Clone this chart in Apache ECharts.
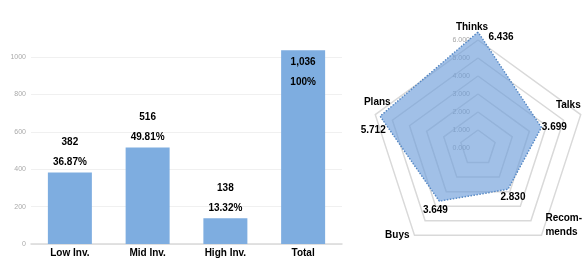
<!DOCTYPE html>
<html>
<head>
<meta charset="utf-8">
<script src="https://cdn.jsdelivr.net/npm/echarts@6/dist/echarts.min.js"></script>
<style>
    html, body { margin: 0; padding: 0; background: #fff; }
    #chart { width: 588px; height: 265px; }
</style>
</head>
<body>
<div id="chart"></div>
<script>
// bar chart data
const barCategories = ["Low Inv.", "Mid Inv.", "High Inv.", "Total"];
const barValues = [382, 516, 138, 1036];
const barPercents = ["36.87%", "49.81%", "13.32%", "100%"];

// radar data (listed counterclockwise from the top)
const radarNames = ["Thinks", "Plans", "Buys", "Recom-\nmends", "Talks"];
const radarValues = [6.436, 5.712, 3.649, 2.83, 3.699];
const radarMax = 6;

const FONT = '"Liberation Sans", Arial, sans-serif';

// where each value label sits next to its vertex
const valueLabelOffsets = [[23, 5], [-7, 14], [-4, 9], [5, 8], [13, 0]];

// how each category name sits next to its outer vertex
const nameStyles = [
    { gap: 6, style: { align: "center", verticalAlign: "bottom", padding: [0, 12, 0, 0] } },
    { gap: 0, style: { align: "center", verticalAlign: "bottom", padding: [0, 0, 5, 4] } },
    { gap: 0, style: { align: "right", verticalAlign: "middle", padding: [0, 5, 5, 0] } },
    { gap: 5, style: { align: "left", verticalAlign: "bottom", padding: [0, 0, 0, 1] } },
    { gap: 0, style: { align: "right", verticalAlign: "bottom", padding: [0, 0, 2, 0] } }
];

const chart = echarts.init(document.getElementById("chart"), null, { renderer: "canvas" });

const barData = barValues.map((v, i) => {
    let item = { value: v };
    if (i === barValues.length - 1) {
        // total bar has its labels inside
        item.label = { position: "insideTop", distance: 2 };
    }
    return item;
});

// one invisible copy per vertex, carrying only that vertex's label
let radarData = [
    {
        value: radarValues,
        symbol: "none",
        lineStyle: { color: "#4a7ebb", width: 1.5, type: "dotted" },
        areaStyle: { color: "rgb(110,158,218)", opacity: 0.65 }
    }
];
radarValues.forEach((v, i) => {
    radarData.push({
        value: radarValues,
        symbol: "circle",
        symbolSize: 1,
        itemStyle: { color: "rgba(0,0,0,0)", borderWidth: 0 },
        lineStyle: { opacity: 0 },
        label: {
            show: true,
            position: "inside",
            offset: valueLabelOffsets[i],
            color: "#000",
            fontFamily: FONT,
            fontWeight: "bold",
            fontSize: 10,
            formatter: p => (p.dimensionIndex === i ? radarValues[i].toFixed(3) : "")
        }
    });
});

const option = {
    animation: false,
    grid: { left: 31, right: 246, top: 49.5, bottom: 21 },
    xAxis: {
        type: "category",
        data: barCategories,
        axisTick: { show: false },
        axisLine: { lineStyle: { color: "#d9d9d9", width: 1.5 } },
        axisLabel: { color: "#000", fontFamily: FONT, fontWeight: "bold", fontSize: 10, margin: 4 }
    },
    yAxis: {
        type: "value",
        min: 0,
        max: 1040,
        interval: 200,
        axisLine: { show: false },
        axisTick: { show: false },
        axisLabel: {
            color: "#aaa",
            fontFamily: FONT,
            fontSize: 7,
            margin: 5,
            showMaxLabel: false,
            formatter: v => String(v)
        },
        splitLine: { showMaxLine: false, lineStyle: { color: "#f0f0f0", width: 1 } }
    },
    radar: {
        center: [478, 148],
        radius: 108,
        startAngle: 90,
        splitNumber: 6,
        shape: "polygon",
        nameGap: 0,
        indicator: radarNames.map((n, i) => {
            let ind = {
                name: n,
                min: 0,
                max: radarMax,
                nameGap: nameStyles[i].gap,
                nameTextStyle: nameStyles[i].style
            };
            if (i === 0) {
                ind.axisLabel = {
                    show: true,
                    color: "#a6a6a6",
                    fontSize: 7,
                    fontFamily: FONT,
                    formatter: v => v.toFixed(3)
                };
            }
            return ind;
        }),
        axisName: { color: "#000", fontFamily: FONT, fontWeight: "bold", fontSize: 10, lineHeight: 14 },
        axisLine: { show: false },
        axisTick: { show: false },
        axisLabel: { show: false },
        splitLine: { lineStyle: { color: "#d9d9d9", width: 1.5 } },
        splitArea: { show: false }
    },
    series: [
        {
            type: "bar",
            data: barData,
            barWidth: 44,
            itemStyle: { color: "#7eade0" },
            label: {
                show: true,
                position: "top",
                distance: 0,
                color: "#000",
                fontFamily: FONT,
                fontWeight: "bold",
                fontSize: 10,
                lineHeight: 20,
                formatter: p => p.value.toLocaleString("en-US") + "\n" + barPercents[p.dataIndex]
            }
        },
        {
            type: "radar",
            data: radarData
        }
    ]
};

chart.setOption(option);
</script>
</body>
</html>
